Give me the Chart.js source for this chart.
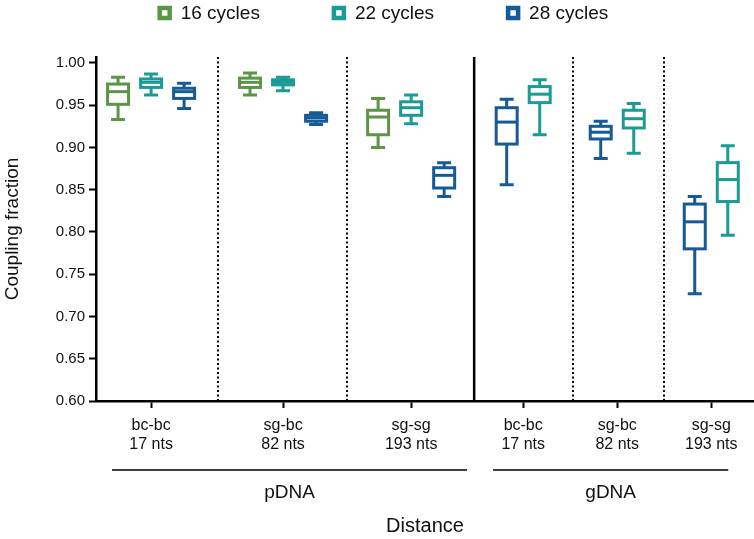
<!DOCTYPE html>
<html>
<head>
<meta charset="utf-8">
<script src="https://cdn.jsdelivr.net/npm/chart.js"></script>
<style>
  html, body { margin: 0; padding: 0; background: #fff; }
  #wrap { width: 754px; height: 539px; }
</style>
</head>
<body>
<div id="wrap"><canvas id="chart"></canvas></div>
<script>
// ---- data ----
const distanceNames = ['bc-bc', 'sg-bc', 'sg-sg', 'bc-bc', 'sg-bc', 'sg-sg'];
const distanceLengths = ['17 nts', '82 nts', '193 nts', '17 nts', '82 nts', '193 nts'];
const templateGroups = ['pDNA', 'gDNA'];
const seriesNames = ['16 cycles', '22 cycles', '28 cycles'];
const yTickValues = [0.60, 0.65, 0.70, 0.75, 0.80, 0.85, 0.90, 0.95, 1.00];

// [min, q1, median, q3, max] per distance; null = not measured
const cycles16 = [
  [0.933, 0.951, 0.966, 0.975, 0.983],
  [0.962, 0.971, 0.977, 0.982, 0.988],
  [0.900, 0.915, 0.936, 0.944, 0.958],
  null, null, null
];
const cycles22 = [
  [0.962, 0.971, 0.977, 0.981, 0.987],
  [0.967, 0.974, 0.977, 0.980, 0.983],
  [0.928, 0.938, 0.947, 0.954, 0.962],
  [0.915, 0.953, 0.963, 0.972, 0.980],
  [0.893, 0.923, 0.934, 0.944, 0.952],
  [0.796, 0.836, 0.862, 0.882, 0.902]
];
const cycles28 = [
  [0.946, 0.958, 0.966, 0.970, 0.976],
  [0.927, 0.931, 0.935, 0.938, 0.941],
  [0.842, 0.852, 0.867, 0.876, 0.882],
  [0.856, 0.904, 0.930, 0.947, 0.957],
  [0.887, 0.910, 0.918, 0.925, 0.931],
  [0.727, 0.780, 0.812, 0.833, 0.842]
];

// ---- layout (x in category units, pDNA columns wider than gDNA) ----
const catCenters = [0.437, 1.484, 2.5, 3.389, 4.135, 4.881];
const dottedDividers = [0.968, 1.992, 3.786, 4.508];
const groupDivider = 3.0;
const groupSpans = [[0.127, 2.944], [3.15, 5.016]];
const xMax = 5.22;
const seriesOffsets = [
  [-0.262, -0.262, -0.262, 0, 0, 0],
  [0, 0, 0, 0.131, 0.131, 0.131],
  [0.262, 0.262, 0.262, -0.131, -0.131, -0.131]
];
const colors = ['#5B9646', '#1A9B96', '#165A97'];
const FONT = '"Liberation Sans", Arial, Helvetica, sans-serif';

const allStats = [cycles16, cycles22, cycles28];

const datasets = allStats.map((stats, s) => ({
  label: seriesNames[s],
  borderColor: colors[s],
  backgroundColor: colors[s],
  pointRadius: 0,
  stats: stats,
  data: stats.map((st, i) => st ? { x: catCenters[i] + seriesOffsets[s][i], y: st[2], i } : null)
             .filter(d => d)
}));

const boxPlugin = {
  id: 'boxes',
  beforeDatasetsDraw(chart) {
    const { ctx, chartArea, scales: { x } } = chart;
    ctx.save();
    ctx.strokeStyle = '#000';
    ctx.lineWidth = 2;
    ctx.setLineDash([2, 2.5]);
    dottedDividers.forEach(v => {
      const px = Math.round(x.getPixelForValue(v));
      ctx.beginPath();
      ctx.moveTo(px, chartArea.top);
      ctx.lineTo(px, chartArea.bottom);
      ctx.stroke();
    });
    ctx.setLineDash([]);
    ctx.lineWidth = 2.5;
    const gx = x.getPixelForValue(groupDivider);
    ctx.beginPath();
    ctx.moveTo(gx, chartArea.top);
    ctx.lineTo(gx, chartArea.bottom);
    ctx.stroke();
    ctx.restore();
  },
  afterDatasetsDraw(chart) {
    const { ctx, scales: { x, y } } = chart;
    const boxW = 21, capW = 14;
    ctx.save();
    ctx.lineWidth = 3;
    chart.data.datasets.forEach(ds => {
      ctx.strokeStyle = ds.borderColor;
      ds.data.forEach(d => {
        const [mn, q1, md, q3, mx] = ds.stats[d.i];
        const cx = x.getPixelForValue(d.x);
        const pMin = y.getPixelForValue(mn), pQ1 = y.getPixelForValue(q1);
        const pMd = y.getPixelForValue(md), pQ3 = y.getPixelForValue(q3);
        const pMax = y.getPixelForValue(mx);
        ctx.beginPath();
        ctx.moveTo(cx, pMax); ctx.lineTo(cx, pQ3);
        ctx.moveTo(cx, pQ1); ctx.lineTo(cx, pMin);
        ctx.moveTo(cx - capW / 2, pMax); ctx.lineTo(cx + capW / 2, pMax);
        ctx.moveTo(cx - capW / 2, pMin); ctx.lineTo(cx + capW / 2, pMin);
        ctx.stroke();
        ctx.fillStyle = '#fff';
        ctx.fillRect(cx - boxW / 2, pQ3, boxW, pQ1 - pQ3);
        ctx.strokeRect(cx - boxW / 2, pQ3, boxW, pQ1 - pQ3);
        ctx.beginPath();
        ctx.moveTo(cx - boxW / 2, pMd); ctx.lineTo(cx + boxW / 2, pMd);
        ctx.stroke();
      });
    });
    ctx.restore();
  },
  afterDraw(chart) {
    const { ctx, chartArea, scales: { x } } = chart;
    ctx.save();
    // group brackets under the axis
    ctx.strokeStyle = '#000';
    ctx.lineWidth = 1.3;
    ctx.fillStyle = '#111';
    ctx.textAlign = 'center';
    ctx.textBaseline = 'middle';
    ctx.font = '19px ' + FONT;
    groupSpans.forEach((span, g) => {
      const a = x.getPixelForValue(span[0]), b = x.getPixelForValue(span[1]);
      ctx.beginPath();
      ctx.moveTo(a, chartArea.bottom + 69);
      ctx.lineTo(b, chartArea.bottom + 69);
      ctx.stroke();
      ctx.fillText(templateGroups[g], (a + b) / 2, chartArea.bottom + 92);
    });
    ctx.font = '20px ' + FONT;
    ctx.fillText('Distance', (chartArea.left + chartArea.right) / 2, chartArea.bottom + 125);

    // legend
    ctx.font = '19px ' + FONT;
    ctx.textAlign = 'left';
    const sq = 10, gapText = 9, gapItem = 72;
    const widths = seriesNames.map(n => sq + 4 + gapText + ctx.measureText(n).width);
    const total = widths.reduce((a, b) => a + b, 0) + gapItem * (widths.length - 1);
    let cur = chart.width / 2 + 6 - total / 2;
    const ly = 13;
    seriesNames.forEach((n, s) => {
      ctx.strokeStyle = colors[s];
      ctx.lineWidth = 4.5;
      ctx.strokeRect(cur + 2, ly - sq / 2, sq, sq);
      ctx.fillText(n, cur + sq + 4 + gapText, ly + 1);
      cur += widths[s] + gapItem;
    });
    ctx.restore();
  }
};

new Chart(document.getElementById('chart'), {
  type: 'scatter',
  data: { datasets },
  options: {
    responsive: true,
    maintainAspectRatio: false,
    animation: false,
    events: [],
    layout: { padding: { top: 57, right: 0, bottom: 0, left: 0 } },
    plugins: { legend: { display: false }, tooltip: { enabled: false } },
    scales: {
      x: {
        type: 'linear',
        min: 0,
        max: xMax,
        afterBuildTicks: axis => { axis.ticks = catCenters.map(v => ({ value: v })); },
        afterFit: scale => { scale.height = 138; },
        ticks: {
          autoSkip: false,
          maxRotation: 0,
          padding: 8,
          color: '#111',
          font: { family: FONT, size: 16, lineHeight: 1.2 },
          callback: (v, i) => [distanceNames[i], distanceLengths[i]]
        },
        grid: { display: true, drawOnChartArea: false, drawTicks: true, tickLength: 7, tickWidth: 2, tickColor: '#000' },
        border: { display: true, color: '#000', width: 2.5 }
      },
      y: {
        min: 0.6,
        max: 1.007,
        afterBuildTicks: axis => { axis.ticks = yTickValues.map(v => ({ value: v })); },
        afterFit: scale => { scale.width = 96; },
        ticks: {
          padding: 4,
          color: '#111',
          font: { family: FONT, size: 15 },
          callback: v => v.toFixed(2)
        },
        grid: { display: true, drawOnChartArea: false, drawTicks: true, tickLength: 7, tickWidth: 2, tickColor: '#000' },
        border: { display: true, color: '#000', width: 2.5 },
        title: {
          display: true,
          text: 'Coupling fraction',
          color: '#111',
          font: { family: FONT, size: 19 },
          padding: { top: 1, bottom: 4 }
        }
      }
    }
  },
  plugins: [boxPlugin]
});
</script>
</body>
</html>
